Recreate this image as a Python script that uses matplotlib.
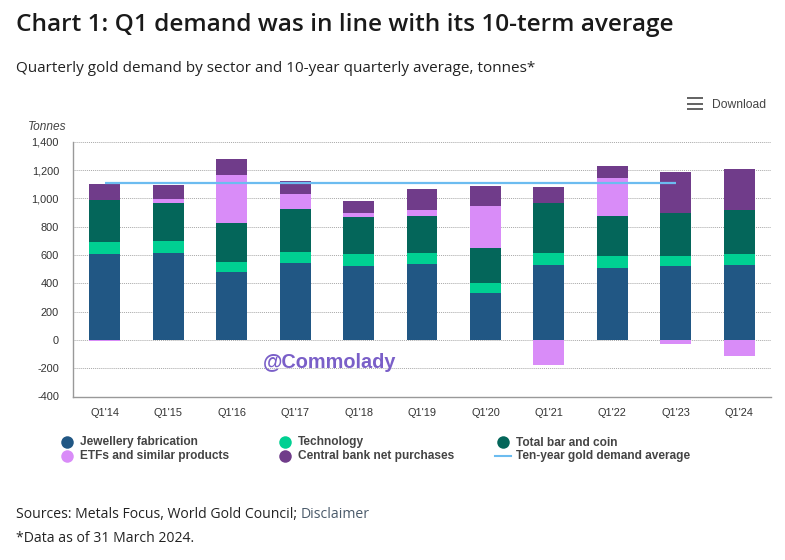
#!/usr/bin/env python3
"""Quarterly gold demand by sector, stacked bars with the ten-year average line."""
import matplotlib; matplotlib.use("Agg")
import matplotlib.pyplot as plt
from matplotlib.lines import Line2D
from matplotlib.patches import Rectangle
import numpy as np

quarters = ["Q1'14", "Q1'15", "Q1'16", "Q1'17", "Q1'18", "Q1'19", "Q1'20", "Q1'21", "Q1'22", "Q1'23", "Q1'24"]
jewellery = [610, 617, 483, 546, 525, 539, 328, 532, 511, 525, 532]
technology = [84, 84, 70, 78, 85, 78, 71, 85, 85, 71, 78]
bar_coin = [296, 267, 275, 302, 260, 260, 253, 351, 281, 302, 309]
etfs = [-5, 29, 338, 106, 28, 42, 295, -178, 267, -30, -115]
central_bank = [112, 98, 112, 91, 85, 148, 141, 113, 85, 289, 289]
average = [1110] * 10
y_ticks = [-400, -200, 0, 200, 400, 600, 800, 1000, 1200, 1400]

C_JEW, C_TECH, C_BAR = "#215784", "#00d092", "#04665a"
C_ETF, C_CB, C_AVG = "#d98cf8", "#703c8a", "#6cbcf0"
W, H = 785, 560
plt.rcParams["font.family"] = ["Liberation Sans", "DejaVu Sans"]

def px(x, y):
    return x / W, 1 - y / H

fig = plt.figure(figsize=(W / 100, H / 100), dpi=100, facecolor="white")
ax = fig.add_axes([73 / W, 1 - 396.5 / H, 698 / W, 254.8 / H])

# stack positive values upward, negative ones downward
x = np.arange(len(quarters))
pos, neg = np.zeros(len(x)), np.zeros(len(x))
for vals, c in [(jewellery, C_JEW), (technology, C_TECH), (bar_coin, C_BAR), (etfs, C_ETF), (central_bank, C_CB)]:
    vals = np.array(vals, dtype=float)
    ax.bar(x, vals, 0.488, bottom=np.where(vals >= 0, pos, neg), color=c, zorder=3, linewidth=0)
    pos += np.clip(vals, 0, None); neg += np.clip(vals, None, 0)
ax.plot(x[:len(average)], average, color=C_AVG, lw=1.6, zorder=4, solid_capstyle="butt")

ax.set_xlim(-0.5, 10.5); ax.set_ylim(-400, 1400)
ax.set_xticks(x, quarters); ax.set_yticks(y_ticks, [f"{v:,}" for v in y_ticks])
ax.tick_params(length=0, labelsize=7.9, colors="#333333")
ax.tick_params(axis="x", pad=8); ax.tick_params(axis="y", pad=10)
ax.grid(axis="y", color="#a8a8a8", lw=0.7, ls=(0, (1, 1)), zorder=1)
for s in ("top", "right"):
    ax.spines[s].set_visible(False)
for s in ("left", "bottom"):
    ax.spines[s].set_color("#999999"); ax.spines[s].set_linewidth(1)

# titles and notes
fig.text(*px(16, 25), "Chart 1: Q1 demand was in line with its 10-term average", family="Open Sans",
         fontsize=17.53, fontweight="semibold", color="#1a1a1a", va="center")
fig.text(*px(16, 69), "Quarterly gold demand by sector and 10-year quarterly average, tonnes*", family="Open Sans",
         fontsize=11.0, color="#222222", va="center")
fig.text(*px(28, 127.5), "Tonnes", fontsize=8.6, style="italic", color="#444444", va="center")
fig.text(*px(263, 362), "@Commolady", fontsize=14.3, fontweight="bold", color="#7a5fc8", va="center", zorder=6)
fig.text(*px(712, 105), "Download", fontsize=8.7, color="#444444", va="center")
for yy in (98, 104, 109):
    fig.add_artist(Rectangle(px(687, yy + 1.4), 16 / W, 2.8 / H, transform=fig.transFigure, color="#666666", lw=0))

# legend is laid out by hand to hit the original columns
legend_rows = [(80, 442.5, "Jewellery fabrication", C_JEW), (298, 442.5, "Technology", C_TECH),
               (516, 442.5, "Total bar and coin", C_BAR), (80, 456.5, "ETFs and similar products", C_ETF),
               (298, 456.5, "Central bank net purchases", C_CB), (516, 456.5, "Ten-year gold demand average", None)]
for tx, ty, label, c in legend_rows:
    fig.text(*px(tx, ty), label, fontsize=8.55, fontweight="bold", color="#444444", va="center")
    mx, my = px(tx - 13, ty - 1)
    if c is None:
        fig.add_artist(Line2D([mx - 8 / W, mx + 8 / W], [my, my], color=C_AVG, lw=1.5, transform=fig.transFigure))
    else:
        fig.add_artist(Line2D([mx], [my], marker="o", ms=9, mew=0, color=c, transform=fig.transFigure))

fig.text(*px(16, 515), "Sources: Metals Focus, World Gold Council;", family="Open Sans", fontsize=10.1, color="#222222", va="center")
fig.text(*px(301, 515), "Disclaimer", family="Open Sans", fontsize=10.1, color="#4a5a6a", va="center")
fig.text(*px(16, 539), "*Data as of 31 March 2024.", family="Open Sans", fontsize=10.1, color="#222222", va="center")

fig.savefig("out.png", dpi=100)
